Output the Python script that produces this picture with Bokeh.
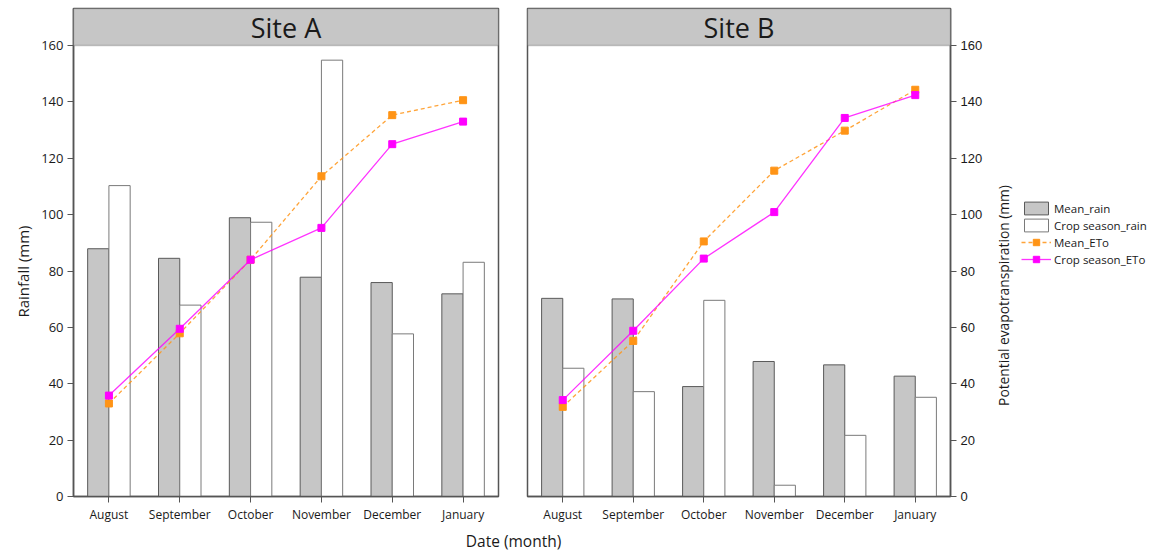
import math
from bokeh.plotting import figure
from bokeh.models import (ColumnDataSource, FactorRange, Range1d, LinearAxis,
                          FixedTicker, Legend, LegendItem, BoxAnnotation, Label)
from bokeh.transform import dodge
from bokeh.layouts import row, column
from bokeh.embed import file_html
from bokeh.resources import INLINE

months = ["August", "September", "October", "November", "December", "January"]
sites = ["Site A", "Site B"]

a_mean_rain = [87.9, 84.5, 98.9, 77.8, 75.9, 71.9]
a_crop_rain = [110.3, 67.9, 97.3, 154.8, 57.7, 83.1]
a_mean_eto = [33.0, 57.9, 84.0, 113.6, 135.3, 140.6]
a_crop_eto = [35.8, 59.5, 84.0, 95.3, 125.0, 133.0]

b_mean_rain = [70.3, 70.1, 39.0, 47.9, 46.7, 42.7]
b_crop_rain = [45.5, 37.2, 69.6, 4.0, 21.7, 35.2]
b_mean_eto = [31.8, 55.2, 90.5, 115.6, 129.8, 144.3]
b_crop_eto = [34.2, 58.8, 84.4, 100.9, 134.3, 142.4]

y_ticks = [0, 20, 40, 60, 80, 100, 120, 140, 160]
Y_MAX = 160
STRIP_TOP = 173.13  # axis range end; the title strip occupies Y_MAX..STRIP_TOP

FONT = "Open Sans"
AX = "#555555"
GRAY = "#c6c6c6"
ORANGE = "#ff9416"
MAGENTA = "#ff00ff"
TXT = "#1a1a1a"

FRAME_H = 488
TOP = 8
BOTTOM = 28


def blank(fw, fh=FRAME_H, top=TOP, bottom=BOTTOM):
    f = figure(frame_width=fw, frame_height=fh, x_range=Range1d(0, fw),
               y_range=Range1d(0, fh), output_backend="svg",
               toolbar_location=None, min_border_left=0, min_border_right=0,
               min_border_top=top, min_border_bottom=bottom,
               x_axis_location=None, y_axis_location=None)
    f.grid.visible = False
    f.outline_line_color = None
    f.background_fill_color = "white"
    f.border_fill_color = "white"
    return f


def style_axis(ax, font, size):
    ax.axis_line_color = AX
    ax.axis_line_width = 1.5
    ax.major_tick_line_color = AX
    ax.major_tick_out = 6
    ax.major_tick_in = 0
    ax.minor_tick_line_color = None
    ax.major_label_text_font = font
    ax.major_label_text_font_size = size
    ax.major_label_text_color = TXT


def panel(title, mean_rain, crop_rain, mean_eto, crop_eto, side, fw,
          left, right):
    p = figure(x_range=FactorRange(factors=months, range_padding=0),
               y_range=Range1d(0, STRIP_TOP), frame_width=fw, frame_height=FRAME_H,
               output_backend="svg", toolbar_location=None,
               min_border_left=left, min_border_right=right, min_border_top=TOP,
               min_border_bottom=BOTTOM, y_axis_location=None)
    p.extra_y_ranges = {"eto": Range1d(0, STRIP_TOP)}
    p.grid.visible = False
    p.outline_line_color = AX
    p.outline_line_width = 1.5
    p.background_fill_color = "white"
    p.border_fill_color = "white"

    src = ColumnDataSource(dict(month=months, mean_rain=mean_rain,
                                crop_rain=crop_rain, mean_eto=mean_eto,
                                crop_eto=crop_eto))
    p.vbar(x=dodge("month", -0.15, range=p.x_range), top="mean_rain",
           width=0.3, source=src, fill_color=GRAY, line_color="#5a5a5a",
           line_width=1)
    p.vbar(x=dodge("month", 0.15, range=p.x_range), top="crop_rain",
           width=0.3, source=src, fill_color="white", line_color="#7a7a7a",
           line_width=1)
    p.line(x="month", y="mean_eto", source=src, y_range_name="eto",
           line_color=ORANGE, line_dash="4 3", line_width=1.3, line_alpha=0.85)
    p.scatter(x="month", y="mean_eto", source=src, y_range_name="eto",
              marker="square", size=7, fill_color=ORANGE, line_color=ORANGE)
    p.line(x="month", y="crop_eto", source=src, y_range_name="eto",
           line_color=MAGENTA, line_width=1.3, line_alpha=0.8)
    p.scatter(x="month", y="crop_eto", source=src, y_range_name="eto",
              marker="square", size=7, fill_color=MAGENTA, line_color=MAGENTA)

    # title strip
    p.add_layout(BoxAnnotation(bottom=Y_MAX, top=STRIP_TOP, fill_color=GRAY,
                               fill_alpha=1, line_color=AX, line_width=1.5))
    p.add_layout(Label(x=fw / 2, x_units="screen", y=(Y_MAX + STRIP_TOP) / 2,
                       text=title, text_align="center", text_baseline="middle",
                       text_font=FONT, text_font_size="27px", text_color=TXT))

    xa = p.xaxis[0]
    style_axis(xa, FONT, "12px")
    xa.major_label_standoff = 3

    if side == "left":
        ya = LinearAxis(ticker=FixedTicker(ticks=y_ticks))
        style_axis(ya, FONT, "13px")
        ya.major_label_standoff = 4
        p.add_layout(ya, "left")
    else:
        ra = LinearAxis(y_range_name="eto", ticker=FixedTicker(ticks=y_ticks))
        style_axis(ra, "Liberation Sans", "13px")
        ra.major_label_standoff = 4
        p.add_layout(ra, "right")
    return p


# left strip holding the y-axis title
pL = blank(34)
pL.add_layout(Label(x=22, x_units="screen", y=225, y_units="screen",
                    text="Rainfall (mm)", angle=math.pi / 2,
                    text_align="center", text_baseline="middle",
                    text_font=FONT, text_font_size="15px", text_color=TXT))

pA = panel(sites[0], a_mean_rain, a_crop_rain, a_mean_eto, a_crop_eto,
           "left", 425, 39, 14)
pB = panel(sites[1], b_mean_rain, b_crop_rain, b_mean_eto, b_crop_eto,
           "right", 423, 15, 40)

# right strip holding the secondary axis title and the legend
pR = blank(168)
pR.add_layout(Label(x=13, x_units="screen", y=201, y_units="screen",
                    text="Potential evapotranspiration (mm)", angle=math.pi / 2,
                    text_align="center", text_baseline="middle",
                    text_font=FONT, text_font_size="13.8px", text_color=TXT))
# legend proxies (a single undrawn NaN point) so the legend can live in this strip
nan = float("nan")
src0 = ColumnDataSource(dict(x=[nan], y=[nan]))
q1 = pR.vbar(x="x", top="y", width=1, source=src0, fill_color=GRAY,
             line_color="#5a5a5a")
q2 = pR.vbar(x="x", top="y", width=1, source=src0, fill_color="white",
             line_color="#7a7a7a")
q3 = pR.line(x="x", y="y", source=src0, line_color=ORANGE, line_dash="4 3",
             line_width=1.3, line_alpha=0.85)
q4 = pR.scatter(x="x", y="y", source=src0, marker="square", size=7,
                fill_color=ORANGE, line_color=ORANGE)
q5 = pR.line(x="x", y="y", source=src0, line_color=MAGENTA, line_width=1.3,
             line_alpha=0.8)
q6 = pR.scatter(x="x", y="y", source=src0, marker="square", size=7,
                fill_color=MAGENTA, line_color=MAGENTA)
lg = Legend(items=[
    LegendItem(label="Mean_rain", renderers=[q1]),
    LegendItem(label="Crop season_rain", renderers=[q2]),
    LegendItem(label="Mean_ETo", renderers=[q3, q4]),
    LegendItem(label="Crop season_ETo", renderers=[q5, q6]),
], location=(31, 229))
lg.border_line_color = None
lg.background_fill_alpha = 0
lg.label_text_font = FONT
lg.label_text_font_size = "11.5px"
lg.label_text_color = TXT
lg.glyph_width = 30
lg.glyph_height = 16
lg.label_height = 16
lg.spacing = 1
lg.padding = 2
lg.margin = 0
lg.label_standoff = 3
pR.add_layout(lg, "center")

# bottom strip holding the shared x-axis title
pX = blank(1160, fh=30, top=0, bottom=0)
pX.add_layout(Label(x=513, x_units="screen", y=15, y_units="screen",
                    text="Date (month)", text_align="center",
                    text_baseline="middle", text_font=FONT,
                    text_font_size="15.5px", text_color=TXT))

layout = column(row(pL, pA, pB, pR, spacing=0), pX, spacing=0)

open("out.html", "w").write(file_html(layout, INLINE))
